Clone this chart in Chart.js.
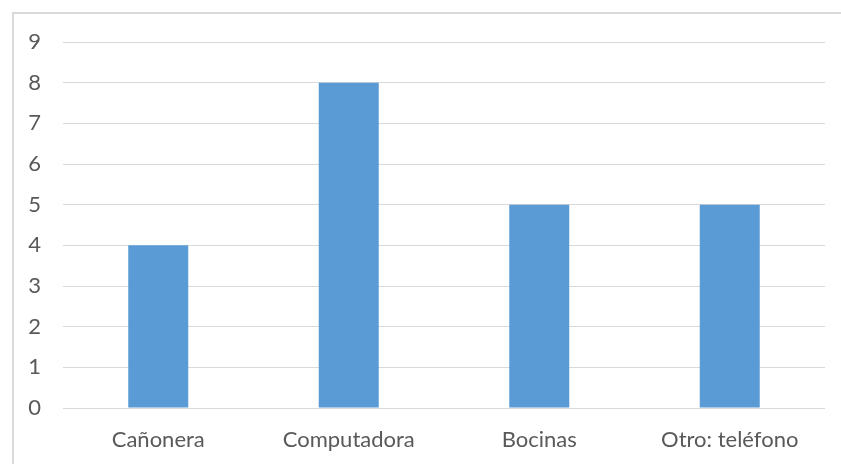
<!DOCTYPE html>
<html>
<head>
<meta charset="utf-8">
<script src="https://cdn.jsdelivr.net/npm/chart.js@4.4.1/dist/chart.umd.min.js"></script>
<style>
  html, body { margin: 0; padding: 0; background: #fff; overflow: hidden; }
  #wrap { position: relative; width: 841px; height: 464px; }
  #frame { position: absolute; left: 12px; top: 12px; width: 900px; height: 600px;
           border: 2px solid #d9d9d9; box-sizing: border-box; }
  #chart { position: absolute; left: 0; top: 0; }
</style>
</head>
<body>
<div id="wrap">
  <div id="frame"></div>
  <canvas id="chart" width="841" height="464"></canvas>
</div>
<script>
// Datos del gráfico
const categories = ['Cañonera', 'Computadora', 'Bocinas', 'Otro: teléfono'];
const values = [4, 8, 5, 5];
const yTicks = [0, 1, 2, 3, 4, 5, 6, 7, 8, 9];

const ctx = document.getElementById('chart');
new Chart(ctx.getContext('2d'), {
    type: 'bar',
    data: {
        labels: categories,
        datasets: [{
            data: values,
            backgroundColor: '#5b9bd5',
            borderWidth: 0,
            barPercentage: 0.315,
            categoryPercentage: 1
        }]
    },
    options: {
        responsive: false,
        animation: false,
        devicePixelRatio: 1,
        layout: { padding: { left: 0, right: 16, top: 42, bottom: 0 } },
        plugins: {
            legend: { display: false },
            tooltip: { enabled: false }
        },
        scales: {
            x: {
                grid: { display: false, drawTicks: false },
                border: { display: false },
                ticks: {
                    color: '#595959',
                    font: { family: 'Lato', size: 22 },
                    padding: 19,
                    maxRotation: 0
                },
                afterFit: function(scale) { scale.height = 56; }
            },
            y: {
                min: 0,
                max: 9,
                afterBuildTicks: function(scale) {
                    scale.ticks = yTicks.map(v => ({ value: v }));
                },
                grid: { color: '#d9d9d9', lineWidth: 1, drawTicks: false },
                border: { display: false },
                ticks: {
                    color: '#595959',
                    font: { family: 'Lato', size: 22 },
                    padding: 22
                },
                afterFit: function(scale) { scale.width = 63; }
            }
        }
    }
});
</script>
</body>
</html>
